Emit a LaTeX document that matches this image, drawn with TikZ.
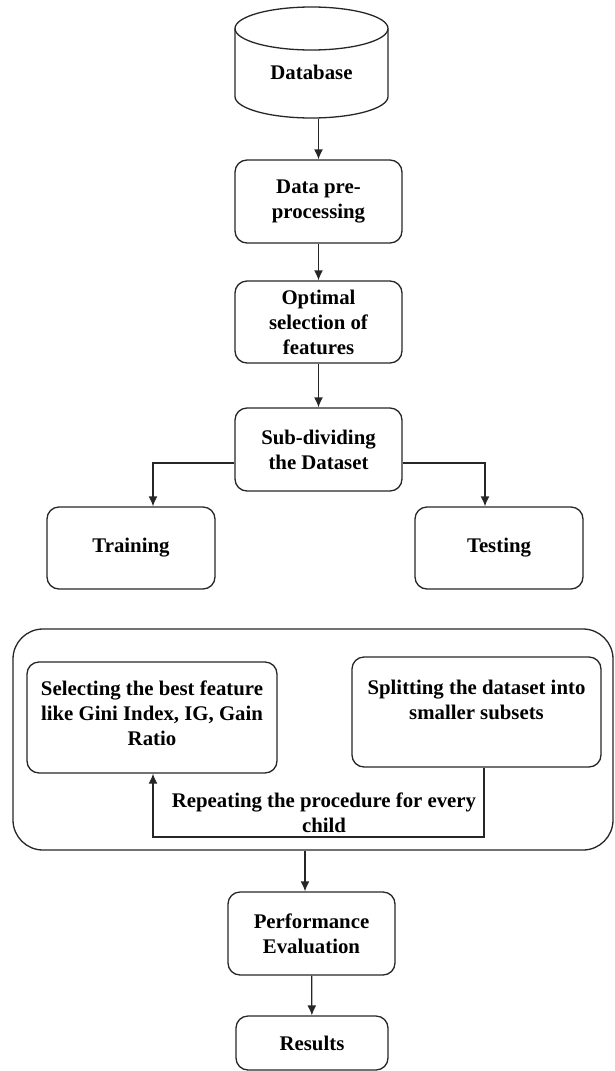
\documentclass[tikz,border=0pt]{standalone}
\usepackage{fontspec}
\setmainfont{Liberation Serif}
\usetikzlibrary{arrows.meta,calc}
\begin{document}
\begin{tikzpicture}[x=1pt,y=-1pt,
  line width=1.3pt,
  every node/.style={font=\fontsize{20.8}{25}\selectfont\bfseries, align=center, inner sep=0pt},
  box/.style={draw=black!85, rounded corners=12pt},
  arr/.style={draw=black!85, -{Latex[length=10pt,width=9pt]}},
  ln/.style={draw=black!85}]
\useasboundingbox (0,0) rectangle (614,1071);

% Database cylinder
\draw[black!85] (235,28.5) -- (235,96.5) arc[start angle=180, end angle=360, x radius=76.5pt, y radius=21.5pt] -- (388,28.5);
\draw[black!85] (311.5,28.5) ellipse [x radius=76.5pt, y radius=21.5pt];
\node[minimum width=153pt, minimum height=111pt] (dbshape) at (311.5,62.5) {};
\node (db) at (311.5,72) {Database};

\node[box, minimum width=167pt, minimum height=83pt] (pre) at (318.5,201.5) {Data pre-\\processing};
\node[box, minimum width=167pt, minimum height=82pt] (opt) at (318.5,322) {Optimal\\selection of\\features};
\node[box, minimum width=167pt, minimum height=83pt] (sub) at (318.5,449.5) {Sub-dividing\\the Dataset};
\node[box, minimum width=168pt, minimum height=82pt] (train) at (131,548) {Training};
\node[box, minimum width=168pt, minimum height=82pt] (test) at (499,548) {Testing};

\node[box, rounded corners=30pt, minimum width=600pt, minimum height=221pt] (cont) at (313,739.5) {};
\node[box, minimum width=250pt, minimum height=111pt] (sel) at (152,717.5) {};
\node (seltxt) at (152,713) {Selecting the best feature\\like Gini Index, IG, Gain\\Ratio};
\node[box, minimum width=249pt, minimum height=110pt] (split) at (476.5,712) {};
\node (splittxt) at (476.5,700) {Splitting the dataset into\\smaller subsets};
\node (rep) at (324,813) {Repeating the procedure for every\\child};

\node[box, minimum width=167pt, minimum height=83pt] (perf) at (311.5,933.5) {Performance\\Evaluation};
\node[box, minimum width=152pt, minimum height=54pt] (res) at (312,1043) {Results};

% connectors
\draw[arr] (dbshape.south -| pre.north) -- (pre.north);
\draw[arr] (pre) -- (opt);
\draw[arr] (opt) -- (sub);
\draw[arr] ([yshift=-13.5pt]sub.west) -| (train.north -| 153,0);
\draw[arr] ([yshift=-13.5pt]sub.east) -| (test.north -| 485,0);
\draw[arr] (split.south -| 484,0) -- (484,837) -- (153,837) -- (sel.south -| 153,0);
\draw[arr] ([xshift=-8pt]cont.south) -- ([xshift=-6.5pt]perf.north);
\draw[arr] (perf) -- (res);
\end{tikzpicture}
\end{document}
